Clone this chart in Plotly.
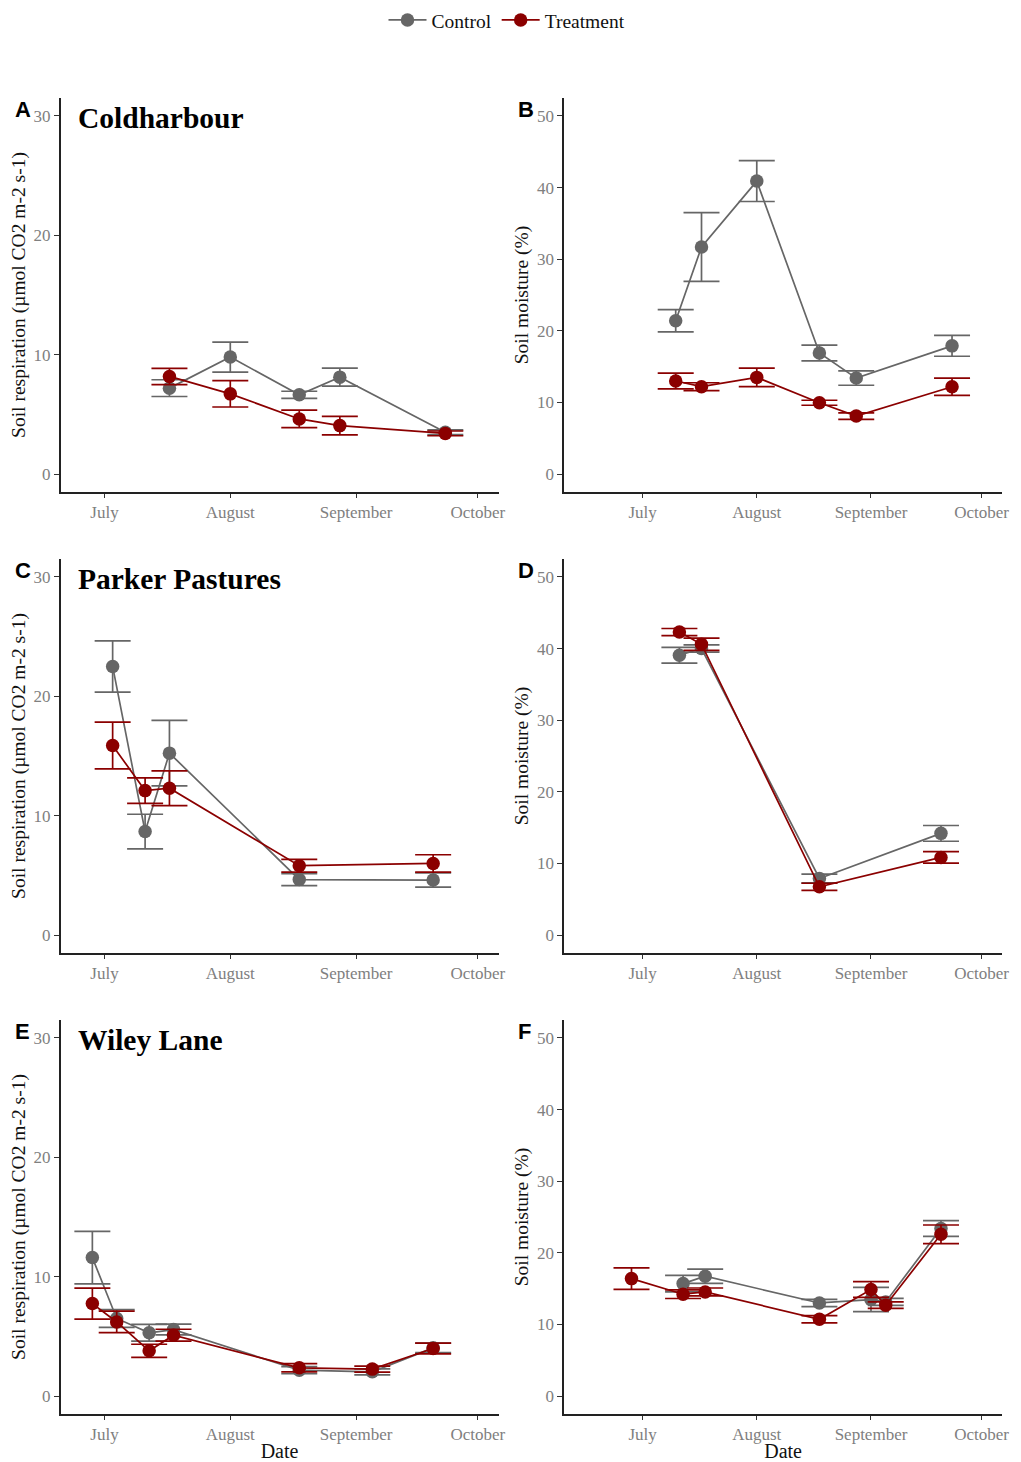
import plotly.graph_objects as go

# ---------------- data ----------------
# Coldharbour
cold_resp_dates = ["2021-07-17", "2021-08-01", "2021-08-18", "2021-08-28", "2021-09-23"]
cold_resp_ctrl = [7.2, 9.8, 6.64, 8.12, 3.5]
cold_resp_ctrl_se = [0.7, 1.26, 0.3, 0.75, 0.2]
cold_resp_trt = [8.18, 6.72, 4.62, 4.06, 3.41]
cold_resp_trt_se = [0.68, 1.1, 0.73, 0.78, 0.2]

cold_moist_dates = ["2021-07-10", "2021-07-17", "2021-08-01", "2021-08-18", "2021-08-28", "2021-09-23"]
cold_moist_ctrl = [21.4, 31.7, 40.9, 16.9, 13.4, 17.9]
cold_moist_ctrl_se = [1.55, 4.8, 2.85, 1.1, 1.0, 1.45]
cold_moist_trt = [13.0, 12.2, 13.5, 9.96, 8.1, 12.2]
cold_moist_trt_se = [1.1, 0.55, 1.3, 0.35, 0.45, 1.2]

# Parker Pastures
park_resp_dates = ["2021-07-03", "2021-07-11", "2021-07-17", "2021-08-18", "2021-09-20"]
park_resp_ctrl = [22.5, 8.67, 15.24, 4.65, 4.61]
park_resp_ctrl_se = [2.15, 1.45, 2.75, 0.5, 0.6]
park_resp_trt = [15.88, 12.1, 12.3, 5.81, 6.0]
park_resp_trt_se = [1.95, 1.07, 1.45, 0.53, 0.73]

park_moist_dates = ["2021-07-11", "2021-07-17", "2021-08-18", "2021-09-20"]
park_moist_ctrl = [39.07, 40.0, 7.9, 14.2]
park_moist_ctrl_se = [1.1, 0.5, 0.6, 1.1]
park_moist_trt = [42.3, 40.6, 6.74, 10.84]
park_moist_trt_se = [0.5, 0.85, 0.5, 0.8]

# Wiley Lane
wiley_resp_dates = ["2021-06-28", "2021-07-04", "2021-07-12", "2021-07-18", "2021-08-18", "2021-09-05", "2021-09-20"]
wiley_resp_ctrl = [11.6, 6.5, 5.3, 5.57, 2.17, 2.03, 4.04]
wiley_resp_ctrl_se = [2.2, 0.75, 0.7, 0.45, 0.3, 0.25, 0.4]
wiley_resp_trt = [7.75, 6.21, 3.79, 5.1, 2.37, 2.26, 3.99]
wiley_resp_trt_se = [1.3, 0.9, 0.55, 0.5, 0.35, 0.25, 0.45]

wiley_moist_ctrl_dates = ["2021-07-12", "2021-07-18", "2021-08-18", "2021-09-01", "2021-09-05", "2021-09-20"]
wiley_moist_ctrl = [15.7, 16.73, 13.0, 13.48, 13.15, 23.4]
wiley_moist_ctrl_se = [1.15, 1.0, 0.5, 1.7, 0.5, 1.1]
wiley_moist_trt_dates = ["2021-06-28", "2021-07-12", "2021-07-18", "2021-08-18", "2021-09-01", "2021-09-05", "2021-09-20"]
wiley_moist_trt = [16.4, 14.22, 14.54, 10.73, 14.88, 12.69, 22.58]
wiley_moist_trt_se = [1.5, 0.6, 0.55, 0.5, 1.1, 0.45, 1.3]

site_names = ["Coldharbour", "Parker Pastures", "Wiley Lane"]
panel_letters = ["A", "B", "C", "D", "E", "F"]
month_ticks = ["2021-07-01", "2021-08-01", "2021-09-01", "2021-10-01"]
month_labels = ["July", "August", "September", "October"]
series_names = ["Control", "Treatment"]
resp_title = "Soil respiration (µmol CO2 m-2 s-1)"
moist_title = "Soil moisture (%)"

# ---------------- style ----------------
CTRL = "#666666"
TRT = "#8B0000"
SERIF = "Liberation Serif, Times New Roman, serif"
W, H = 1021, 1462

panels = [
    (1, cold_resp_dates, cold_resp_ctrl, cold_resp_ctrl_se, cold_resp_dates, cold_resp_trt, cold_resp_trt_se, "resp"),
    (2, cold_moist_dates, cold_moist_ctrl, cold_moist_ctrl_se, cold_moist_dates, cold_moist_trt, cold_moist_trt_se, "moist"),
    (3, park_resp_dates, park_resp_ctrl, park_resp_ctrl_se, park_resp_dates, park_resp_trt, park_resp_trt_se, "resp"),
    (4, park_moist_dates, park_moist_ctrl, park_moist_ctrl_se, park_moist_dates, park_moist_trt, park_moist_trt_se, "moist"),
    (5, wiley_resp_dates, wiley_resp_ctrl, wiley_resp_ctrl_se, wiley_resp_dates, wiley_resp_trt, wiley_resp_trt_se, "resp"),
    (6, wiley_moist_ctrl_dates, wiley_moist_ctrl, wiley_moist_ctrl_se, wiley_moist_trt_dates, wiley_moist_trt, wiley_moist_trt_se, "moist"),
]

# pixel layout
rows_px = [(98, 492), (559, 953), (1020, 1414)]
cols_px = [(61, 502), (568, 1009)]

fig = go.Figure()
layout = dict(
    width=W, height=H, margin=dict(l=0, r=0, t=0, b=0),
    paper_bgcolor="white", plot_bgcolor="white",
    showlegend=True,
    legend=dict(orientation="h", x=0.5, xanchor="center", y=0.9995, yanchor="top",
                font=dict(family=SERIF, size=19.5, color="#111"), itemwidth=38,
                tracegroupgap=0),
)
annotations = []

for i, (idx, dc, c, cse, dt, t, tse, kind) in enumerate(panels):
    row, col = i // 2, i % 2
    xs = "x" if idx == 1 else f"x{idx}"
    ys = "y" if idx == 1 else f"y{idx}"
    for name, d, v, se, color in [(series_names[0], dc, c, cse, CTRL), (series_names[1], dt, t, tse, TRT)]:
        fig.add_trace(go.Scatter(
            x=d, y=v, mode="lines+markers", name=name, legendgroup=name,
            showlegend=(i == 0), xaxis=xs, yaxis=ys,
            line=dict(color=color, width=1.7),
            marker=dict(color=color, size=13.5),
            error_y=dict(type="data", array=se, visible=True, color=color, thickness=1.7, width=18),
        ))
    x0, x1 = cols_px[col]
    y0, y1 = rows_px[row]
    xdom = [x0 / W, x1 / W]
    ydom = [1 - y1 / H, 1 - y0 / H]
    if col == 0:
        xrange = ["2021-06-20 04:00", "2021-10-06 03:00"]
        yrange = [-1.5, 31.5]
        ytick = [0, 10, 20, 30]
    else:
        xrange = ["2021-06-09 17:00", "2021-10-06 14:00"]
        yrange = [-2.5, 52.5]
        ytick = [0, 10, 20, 30, 40, 50]
    axkey = "" if idx == 1 else str(idx)
    common = dict(showgrid=False, zeroline=False, showline=True, linecolor="#222", linewidth=1.6,
                  ticks="outside", tickcolor="#333", tickwidth=1.3,
                  tickfont=dict(family=SERIF, size=17, color="#808080"))
    layout["xaxis" + axkey] = dict(
        domain=xdom, anchor=ys, type="date", range=xrange, ticklen=4,
        tickvals=month_ticks, ticktext=month_labels,
        title=dict(text="Date" if row == 2 else "", font=dict(family=SERIF, size=20, color="#111"), standoff=2),
        **common)
    layout["yaxis" + axkey] = dict(
        domain=ydom, anchor=xs, range=yrange, tickvals=ytick, ticklen=5,
        title=dict(text=resp_title if kind == "resp" else moist_title,
                   font=dict(family=SERIF, size=19.5, color="#111"), standoff=3),
        **common)
    # panel letter
    annotations.append(dict(text=f"<b>{panel_letters[i]}</b>", xref="paper", yref="paper",
                            x=(x0 - 48) / W, y=1 - (y0 - 3) / H, xanchor="left", yanchor="top",
                            showarrow=False, font=dict(family="Liberation Sans, Arial, sans-serif", size=22, color="#000")))
    if col == 0:
        annotations.append(dict(text=f"<b>{site_names[row]}</b>", xref="paper", yref="paper",
                                x=(x0 + 16) / W, y=1 - (y0 + 2) / H, xanchor="left", yanchor="top",
                                showarrow=False, font=dict(family=SERIF, size=29.5, color="#000")))

layout["annotations"] = annotations
fig.update_layout(**layout)
fig.write_html("out.html")
